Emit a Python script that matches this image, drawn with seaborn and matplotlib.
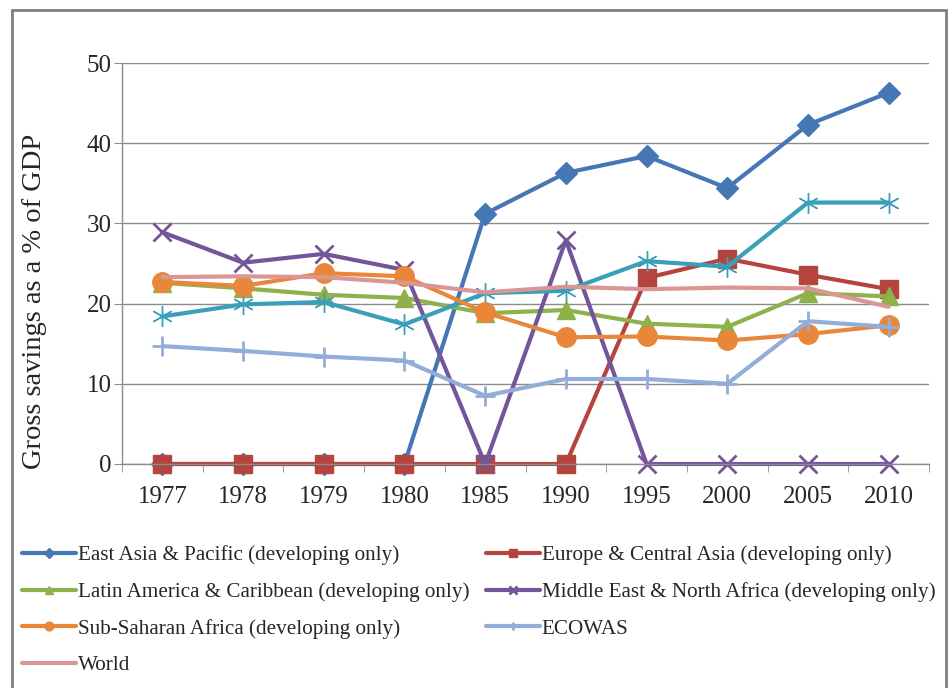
import numpy as np
import pandas as pd
import matplotlib
matplotlib.use("Agg")
import matplotlib.pyplot as plt
import seaborn as sns

# dados (% do PIB)
anos = ['1977', '1978', '1979', '1980', '1985', '1990', '1995', '2000', '2005', '2010']

leste_asia = [0, 0, 0, 0, 31.2, 36.3, 38.4, 34.4, 42.3, 46.3]
europa_asia_central = [0, 0, 0, 0, 0, 0, 23.2, 25.6, 23.6, 21.8]
america_latina = [22.6, 21.9, 21.1, 20.7, 18.8, 19.2, 17.5, 17.1, 21.3, 20.9]
oriente_medio = [28.9, 25.1, 26.2, 24.2, 0, 27.9, 0, 0, 0, 0]
serie_sem_legenda = [18.4, 19.9, 20.2, 17.4, 21.3, 21.6, 25.3, 24.6, 32.6, 32.6]
africa_subsaariana = [22.7, 22.2, 23.8, 23.4, 18.9, 15.8, 15.9, 15.4, 16.2, 17.3]
ecowas = [14.7, 14.1, 13.4, 12.9, 8.5, 10.6, 10.6, 10.0, 17.8, 17.1]
mundo = [23.3, 23.4, 23.3, 22.6, 21.4, 22.1, 21.8, 22.0, 21.9, 19.6]

nomes = [
    'East Asia & Pacific (developing only)',
    'Europe & Central Asia (developing only)',
    'Latin America & Caribbean (developing only)',
    'Middle East & North Africa (developing only)',
    '_sem_legenda',
    'Sub-Saharan Africa (developing only)',
    'ECOWAS',
    'World',
]
valores = [leste_asia, europa_asia_central, america_latina, oriente_medio,
           serie_sem_legenda, africa_subsaariana, ecowas, mundo]

# estilo de cada serie (cor, marcador, tamanho)
estilos = [
    ('#4677B5', 'D', 11),
    ('#B5443F', 's', 13),
    ('#8EB14B', '^', 13),
    ('#73559A', 'x', 13),
    ('#3A9FB8', (6, 2, 0), 15),
    ('#E8873A', 'o', 14),
    ('#93ADD8', '+', 14),
    ('#D99694', None, 0),
]

sns.set_style('white')
plt.rcParams['font.family'] = ['Liberation Serif', 'DejaVu Serif']

fig = plt.figure(figsize=(9.49, 6.88), dpi=100)
ax = fig.add_axes([122 / 949, 1 - 464 / 688, (929 - 122) / 949, (464 - 63) / 688])

pos = np.arange(len(anos))
for nome, vals, (cor, marc, tam) in zip(nomes, valores, estilos):
    df = pd.DataFrame({'pos': pos, 'valor': vals})
    sns.lineplot(data=df, x='pos', y='valor', ax=ax, color=cor, linewidth=3,
                 marker=marc, markersize=tam, markeredgecolor=cor,
                 markeredgewidth=2 if marc in ('x', '+') else 1,
                 label=nome, legend=False, clip_on=False)

# eixos
ax.set_xlim(-0.5, len(anos) - 0.5)
ax.set_ylim(0, 50)
ax.set_yticks(np.arange(0, 51, 10))
ax.set_xticks(pos)
ax.set_xticklabels(anos)
ax.set_xticks(np.arange(-0.5, len(anos), 1), minor=True)
ax.set_xlabel('')
ax.set_ylabel('Gross savings as a % of GDP', fontsize=20.5)
ax.yaxis.set_label_coords((47 - 122) / 807, 0.405)

cinza = '#8C8C8C'
ax.grid(axis='y', color=cinza, linewidth=1)
ax.set_axisbelow(True)
for lado in ['top', 'right']:
    ax.spines[lado].set_visible(False)
for lado in ['left', 'bottom']:
    ax.spines[lado].set_color(cinza)
    ax.spines[lado].set_linewidth(1)
ax.tick_params(axis='y', which='major', length=6, color=cinza, direction='out',
               pad=1.5, labelsize=18, left=True)
ax.tick_params(axis='x', which='major', length=0, pad=16, labelsize=18)
ax.tick_params(axis='x', which='minor', length=6, color=cinza, direction='out',
               bottom=True)

# legenda em duas colunas (ordem por linha como no original)
handles, labels = ax.get_legend_handles_labels()
mapa = dict(zip(labels, handles))
ordem = [nomes[0], nomes[2], nomes[5], nomes[7], nomes[1], nomes[3], nomes[6]]
hs = [mapa[n] for n in ordem]
fig.legend(hs, ordem, loc='upper left', bbox_to_anchor=(14 / 949, 1 - 537 / 688),
           ncol=2, frameon=False, fontsize=15.2, handlelength=2.55,
           handletextpad=0.1, columnspacing=0.75, labelspacing=0.8,
           markerscale=0.45, borderaxespad=0)

# moldura do grafico
fig.add_artist(plt.Rectangle((12 / 949, -0.01), (946 - 12) / 949, 1 - 10 / 688 + 0.01,
                             transform=fig.transFigure, fill=False,
                             edgecolor='#7F7F7F', linewidth=2))

fig.savefig('out.png', dpi=100)
